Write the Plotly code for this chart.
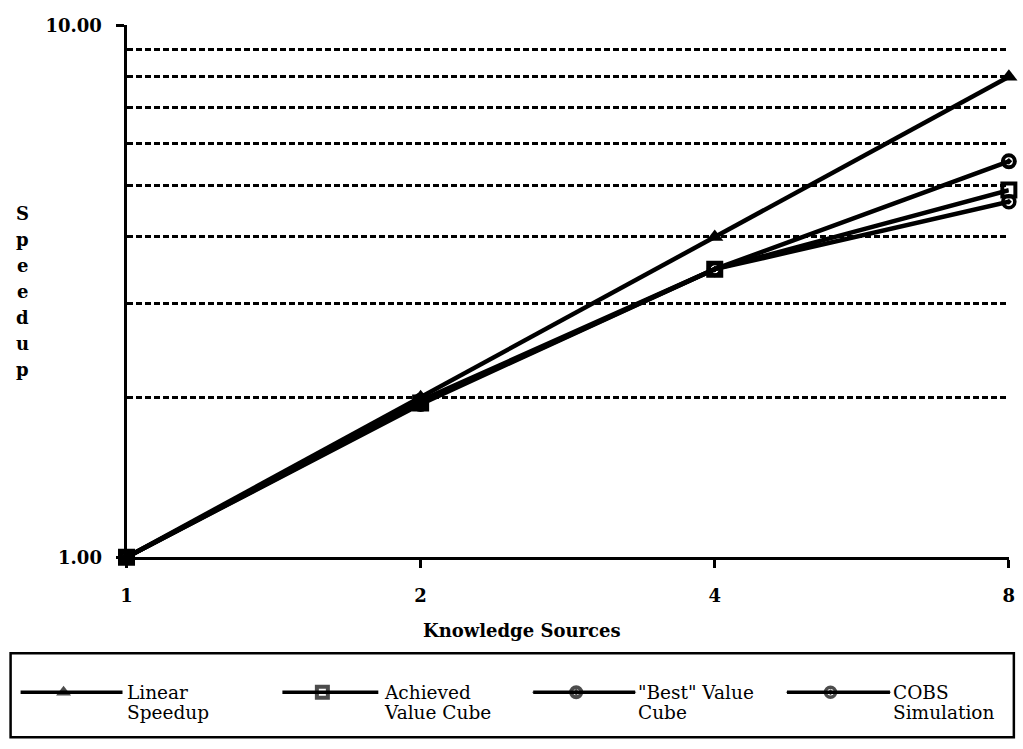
import plotly.graph_objects as go

# ---------------- data ----------------
knowledge_sources = [1, 2, 4, 8]
linear_speedup = [1, 2, 4, 8]
achieved_value_cube = [1, 1.95, 3.48, 4.9]
best_value_cube = [1, 1.97, 3.48, 5.55]
cobs_simulation = [1, 1.94, 3.48, 4.66]

x_tick_labels = ["1", "2", "4", "8"]
y_tick_vals = [1, 10]
y_tick_labels = ["1.00", "10.00"]
y_minor_grid = [2, 3, 4, 5, 6, 7, 8, 9]

legend_lines = [("Linear", "Speedup"), ("Achieved", "Value Cube"),
                ("\"Best\" Value", "Cube"), ("COBS", "Simulation")]
series_names = [" ".join(p) for p in legend_lines]

# ---------------- layout helpers ----------------
W, H = 1023, 749
# calibration of the page photo (figure appears slightly inset/scaled)
AX, BX = 0.989, 5.4
AY, BY = 0.972, 9.7
def px(x):
    return ((x - BX) / AX) / W
def py(y):
    return 1 - ((y - BY) / AY) / H

FONT = "DejaVu Serif"
BLACK = "black"

fig = go.Figure()

styles = [
    dict(symbol="triangle-up", size=15, color=BLACK, line=dict(width=0)),
    dict(symbol="square-open", size=13, color=BLACK, line=dict(width=4, color=BLACK)),
    dict(symbol="circle-open-dot", size=12, color=BLACK, line=dict(width=4, color=BLACK)),
    dict(symbol="circle-open-dot", size=12, color=BLACK, line=dict(width=3.5, color=BLACK)),
]
data_series = [linear_speedup, achieved_value_cube, best_value_cube, cobs_simulation]

for name, vals, st in zip(series_names, data_series, styles):
    fig.add_trace(go.Scatter(
        x=knowledge_sources, y=vals, mode="lines+markers",
        name=name,
        line=dict(color=BLACK, width=4.5),
        marker=st, cliponaxis=False, showlegend=False,
        xaxis="x", yaxis="y",
    ))

# ---------------- custom legend (box at bottom) ----------------
leg_y = 691
leg_y2 = 711
leg_entries = [  # line start, line end, text x
    (20, 122, 125),
    (282, 378, 383),
    (533, 635, 637),
    (787, 890, 892),
]
for (x0, x1, tx), (l1, l2), st in zip(leg_entries, legend_lines, styles):
    xm = (x0 + x1) / 2 - 8
    lw = st["line"]["width"]
    fig.add_trace(go.Scatter(
        x=[x0, xm, x1], y=[leg_y, leg_y, leg_y], mode="lines+markers",
        line=dict(color=BLACK, width=3.5),
        marker=dict(symbol=st["symbol"], size=[0, st["size"] - 2, 0], color=BLACK,
                    line=dict(color=BLACK, width=[0, lw, 0])),
        xaxis="x2", yaxis="y2", showlegend=False, hoverinfo="skip", cliponaxis=False,
    ))
    for txt, yy in ((l1, leg_y), (l2, leg_y2)):
        fig.add_annotation(
            x=px(tx), y=py(yy), xref="paper", yref="paper",
            text=txt, showarrow=False, xanchor="left", yanchor="middle", align="left",
            borderpad=0,
            font=dict(family=FONT, size=18.5, color=BLACK),
        )

fig.add_shape(type="rect", xref="paper", yref="paper",
              x0=px(10), x1=px(1014), y0=py(652), y1=py(736),
              line=dict(color=BLACK, width=2.5))

# axis titles
fig.add_annotation(x=px(522), y=py(629), xref="paper", yref="paper",
                   text="Knowledge Sources", showarrow=False,
                   xanchor="center", yanchor="middle",
                   font=dict(family=FONT, size=18, color=BLACK, weight="bold"))
for i, ch in enumerate("Speedup"):
    fig.add_annotation(x=px(22), y=py(212 + i * 26), xref="paper", yref="paper",
                       text=ch, showarrow=False, xanchor="center", yanchor="middle",
                       font=dict(family=FONT, size=18, color=BLACK, weight="bold"))

grid_dash = "6px,3px"
fig.update_layout(
    width=W, height=H, autosize=False,
    margin=dict(l=0, r=0, t=0, b=0),
    paper_bgcolor="white", plot_bgcolor="rgba(0,0,0,0)",
    font=dict(family=FONT, color=BLACK),
    xaxis=dict(
        type="log", domain=[px(126), px(1009)],
        range=[0, 0.90309],
        tickvals=knowledge_sources, ticktext=x_tick_labels,
        ticks="outside", ticklen=8, tickwidth=2.5, tickcolor=BLACK,
        showline=True, linecolor=BLACK, linewidth=3,
        showgrid=False, zeroline=False,
        tickfont=dict(family=FONT, size=18, color=BLACK, weight="bold"),
        ticklabelstandoff=12,
        anchor="y",
    ),
    yaxis=dict(
        type="log", domain=[py(556), py(24)],
        range=[0, 1],
        tickvals=y_tick_vals, ticktext=y_tick_labels,
        ticks="outside", ticklen=8, tickwidth=2.5, tickcolor=BLACK,
        showline=True, linecolor=BLACK, linewidth=3,
        showgrid=True, gridcolor=BLACK, gridwidth=2.5, griddash=grid_dash,
        zeroline=False,
        minor=dict(tickvals=y_minor_grid, showgrid=True, gridcolor=BLACK,
                   gridwidth=2.5, griddash=grid_dash, ticks=""),
        tickfont=dict(family=FONT, size=18, color=BLACK, weight="bold"),
        ticklabelstandoff=10,
        anchor="x",
    ),
    xaxis2=dict(domain=[0, 1], range=[BX, AX * W + BX], visible=False, anchor="y2", fixedrange=True),
    yaxis2=dict(domain=[0, 1], range=[AY * H + BY, BY], visible=False, anchor="x2", fixedrange=True),
    showlegend=False,
)

fig.write_html(
    "out.html",
    config={"displayModeBar": False},
    post_script="document.body.style.margin='0';document.body.style.overflow='hidden';",
)
